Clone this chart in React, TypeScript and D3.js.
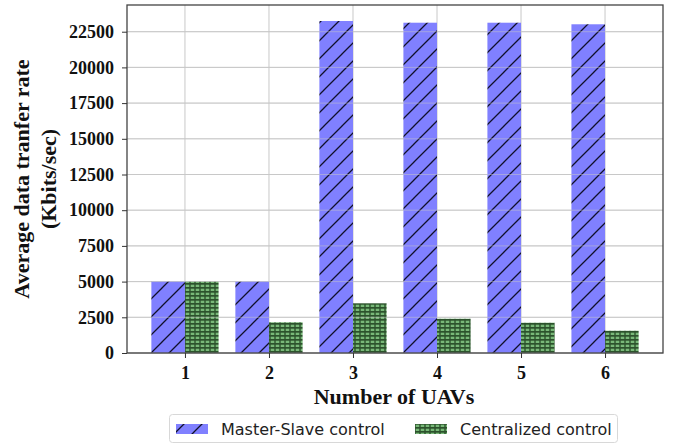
import { useEffect, useRef } from 'react'
import * as d3 from 'd3'

const uavCounts = ['1', '2', '3', '4', '5', '6']
const masterSlave = [5000, 5000, 23250, 23130, 23130, 23020]
const centralized = [5000, 2150, 3480, 2400, 2120, 1560]
const yTicks = [0, 2500, 5000, 7500, 10000, 12500, 15000, 17500, 20000, 22500]
const seriesNames = ['Master-Slave control', 'Centralized control']

export default function App() {
  const ref = useRef<SVGSVGElement>(null)

  useEffect(() => {
    const width = 677,
      height = 445,
      left = 127,
      right = 663,
      top = 5,
      bottom = 353

    const svg = d3.select(ref.current)
    svg.selectAll('*').remove()
    svg.attr('width', width).attr('height', height)

    const defs = svg.append('defs')
    const hatch = defs
      .append('pattern')
      .attr('id', 'hatch-blue')
      .attr('patternUnits', 'userSpaceOnUse')
      .attr('width', 18)
      .attr('height', 18)
    hatch.append('rect').attr('width', 18).attr('height', 18).attr('fill', '#8080ff')
    hatch
      .append('path')
      .attr('d', 'M-2,20 L20,-2 M-2,2 L2,-2 M16,20 L20,16')
      .attr('stroke', '#10102a')
      .attr('stroke-width', 1.3)

    const dots = defs
      .append('pattern')
      .attr('id', 'dots-green')
      .attr('patternUnits', 'userSpaceOnUse')
      .attr('width', 5)
      .attr('height', 4)
    dots.append('rect').attr('width', 5).attr('height', 4).attr('fill', '#2c522c')
    dots
      .append('rect')
      .attr('x', 0.7)
      .attr('y', 0.7)
      .attr('width', 3.6)
      .attr('height', 2.3)
      .attr('fill', '#78b878')

    const x = d3.scaleLinear().domain([0.31, 6.69]).range([left, right])
    const y = d3.scaleLinear().domain([0, 24370]).range([bottom, top])
    const bw = 0.4

    // grid
    const grid = svg.append('g').attr('stroke', '#c8c8c8').attr('stroke-width', 1)
    grid
      .selectAll('line.v')
      .data(uavCounts)
      .enter()
      .append('line')
      .attr('x1', (_, i) => x(i + 1))
      .attr('x2', (_, i) => x(i + 1))
      .attr('y1', top)
      .attr('y2', bottom)
    grid
      .selectAll('line.h')
      .data(yTicks)
      .enter()
      .append('line')
      .attr('x1', left)
      .attr('x2', right)
      .attr('y1', (d) => y(d))
      .attr('y2', (d) => y(d))

    // bars
    svg
      .append('g')
      .selectAll('rect')
      .data(masterSlave)
      .enter()
      .append('rect')
      .attr('x', (_, i) => x(i + 1 - bw))
      .attr('width', x(bw) - x(0))
      .attr('y', (d) => y(d))
      .attr('height', (d) => y(0) - y(d))
      .attr('fill', 'url(#hatch-blue)')

    svg
      .append('g')
      .selectAll('rect')
      .data(centralized)
      .enter()
      .append('rect')
      .attr('x', (_, i) => x(i + 1))
      .attr('width', x(bw) - x(0))
      .attr('y', (d) => y(d))
      .attr('height', (d) => y(0) - y(d))
      .attr('fill', 'url(#dots-green)')

    // grid lines showing through translucent bars
    svg
      .append('g')
      .attr('stroke', '#c8c8c8')
      .attr('stroke-opacity', 0.5)
      .selectAll('line')
      .data(yTicks)
      .enter()
      .append('line')
      .attr('x1', left)
      .attr('x2', right)
      .attr('y1', (d) => y(d))
      .attr('y2', (d) => y(d))

    // frame
    svg
      .append('rect')
      .attr('x', left)
      .attr('y', top)
      .attr('width', right - left)
      .attr('height', bottom - top)
      .attr('fill', 'none')
      .attr('stroke', '#444')
      .attr('stroke-width', 1.3)

    const tickFont = (g: any) =>
      g
        .attr('font-family', '"Liberation Serif", serif')
        .attr('font-weight', 'bold')
        .attr('font-size', 18)
        .attr('fill', '#111')

    const yAxis = svg
      .append('g')
      .attr('transform', `translate(${left},0)`)
      .call(d3.axisLeft(y).tickValues(yTicks).tickSize(5).tickPadding(8).tickFormat(d3.format('d')))
    yAxis.select('.domain').remove()
    yAxis.selectAll('line').attr('stroke', '#333')
    yAxis.selectAll('text').call(tickFont)

    const xAxis = svg
      .append('g')
      .attr('transform', `translate(0,${bottom})`)
      .call(
        d3
          .axisBottom(x)
          .tickValues([1, 2, 3, 4, 5, 6])
          .tickSize(5)
          .tickPadding(8)
          .tickFormat((d, i) => uavCounts[i])
      )
    xAxis.select('.domain').remove()
    xAxis.selectAll('line').attr('stroke', '#333')
    xAxis.selectAll('text').call(tickFont)

    svg
      .append('text')
      .attr('x', 394)
      .attr('y', 404)
      .attr('text-anchor', 'middle')
      .attr('font-family', '"Liberation Serif", serif')
      .attr('font-weight', 'bold')
      .attr('font-size', 22)
      .attr('fill', '#111')
      .text('Number of UAVs')

    const yl = svg
      .append('text')
      .attr('transform', `translate(0,${(top + bottom) / 2}) rotate(-90)`)
      .attr('text-anchor', 'middle')
      .attr('font-family', '"Liberation Serif", serif')
      .attr('font-weight', 'bold')
      .attr('font-size', 22)
      .attr('fill', '#111')
    yl.append('tspan').attr('x', 0).attr('y', 29).text('Average data tranfer rate')
    yl.append('tspan').attr('x', 0).attr('y', 56).text('(Kbits/sec)')

    // legend
    const lg = svg.append('g')
    lg.append('rect')
      .attr('x', 169.5)
      .attr('y', 414.5)
      .attr('width', 448)
      .attr('height', 28)
      .attr('rx', 3)
      .attr('fill', 'white')
      .attr('stroke', '#d8d8d8')
    const items = lg
      .selectAll('g')
      .data(seriesNames)
      .enter()
      .append('g')
      .attr('transform', (_, i) => `translate(${i === 0 ? 176 : 415},0)`)
    items
      .append('rect')
      .attr('x', 0)
      .attr('y', 424)
      .attr('width', 32)
      .attr('height', 10)
      .attr('fill', (_, i) => (i === 0 ? 'url(#hatch-blue)' : 'url(#dots-green)'))
    items
      .append('text')
      .attr('x', 45)
      .attr('y', 435)
      .attr('font-family', '"DejaVu Sans", sans-serif')
      .attr('font-size', 16)
      .attr('fill', '#222')
      .text((d) => d)
  }, [])

  return <svg ref={ref} style={{ position: 'absolute', left: 0, top: 0 }}></svg>
}
